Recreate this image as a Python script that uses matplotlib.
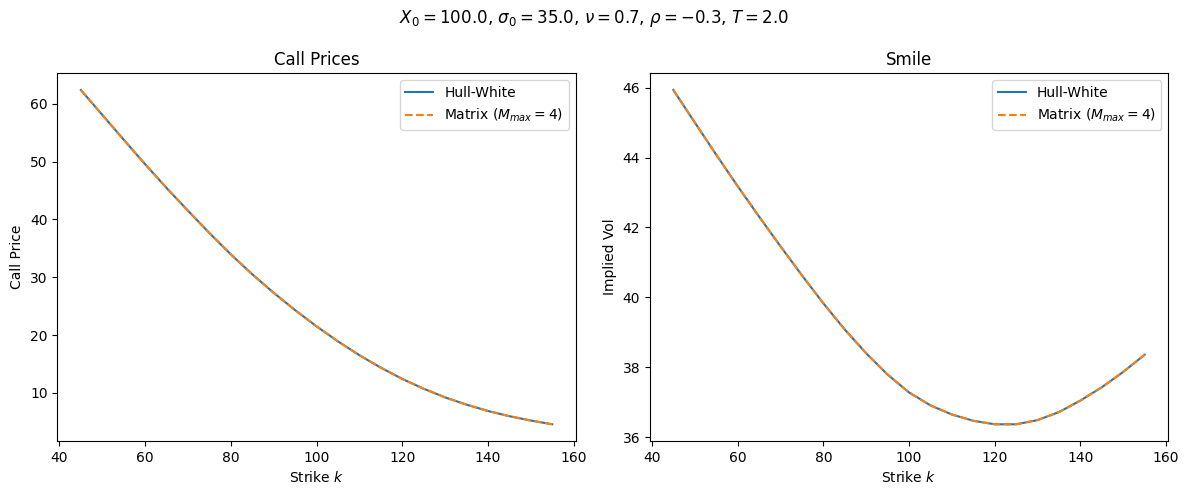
import matplotlib
matplotlib.use("Agg")
import matplotlib.pyplot as plt

strikes = [45, 50, 55, 60, 65, 70, 75, 80, 85, 90, 95, 100, 105, 110, 115, 120,
           125, 130, 135, 140, 145, 150, 155]

hw_price = [62.4, 58.1, 53.8, 49.55, 45.45, 41.5, 37.65, 33.95, 30.5, 27.3, 24.3, 21.5,
            18.9, 16.5, 14.35, 12.4, 10.7, 9.2, 7.95, 6.85, 5.95, 5.2, 4.55]
matrix_price = [62.4, 58.1, 53.8, 49.55, 45.45, 41.5, 37.65, 33.95, 30.5, 27.3, 24.3, 21.5,
                18.9, 16.5, 14.35, 12.4, 10.7, 9.2, 7.95, 6.85, 5.95, 5.2, 4.55]

hw_vol = [45.93, 45.00, 44.08, 43.18, 42.31, 41.46, 40.63, 39.83, 39.08, 38.40, 37.79,
          37.28, 36.91, 36.65, 36.47, 36.37, 36.37, 36.49, 36.72, 37.05, 37.43, 37.87, 38.36]
matrix_vol = [45.93, 45.00, 44.08, 43.18, 42.31, 41.46, 40.63, 39.83, 39.08, 38.40, 37.79,
              37.28, 36.91, 36.65, 36.47, 36.37, 36.37, 36.49, 36.72, 37.05, 37.43, 37.87, 38.36]

fig, (ax1, ax2) = plt.subplots(1, 2, figsize=(11.89, 4.95), dpi=100)
fig.subplots_adjust(left=0.0482, right=0.9826, top=0.8519, bottom=0.1091, wspace=0.1427)

ax1.plot(strikes, hw_price, color='tab:blue', label='Hull-White')
ax1.plot(strikes, matrix_price, color='tab:orange', linestyle='--', label=r'Matrix ($M_{max} = 4$)')
ax1.set_title('Call Prices')
ax1.set_xlabel('Strike $k$')
ax1.set_ylabel('Call Price')
ax1.legend(loc='upper right')

ax2.plot(strikes, hw_vol, color='tab:blue', label='Hull-White')
ax2.plot(strikes, matrix_vol, color='tab:orange', linestyle='--', label=r'Matrix ($M_{max} = 4$)')
ax2.set_title('Smile')
ax2.set_xlabel('Strike $k$')
ax2.set_ylabel('Implied Vol')
ax2.legend(loc='upper right')

fig.suptitle(r'$X_0 = 100.0$, $\sigma_0 = 35.0$, $\nu = 0.7$, $\rho = -0.3$, $T = 2.0$', y=0.9636, va='center')

fig.savefig('out.png', dpi=100)
